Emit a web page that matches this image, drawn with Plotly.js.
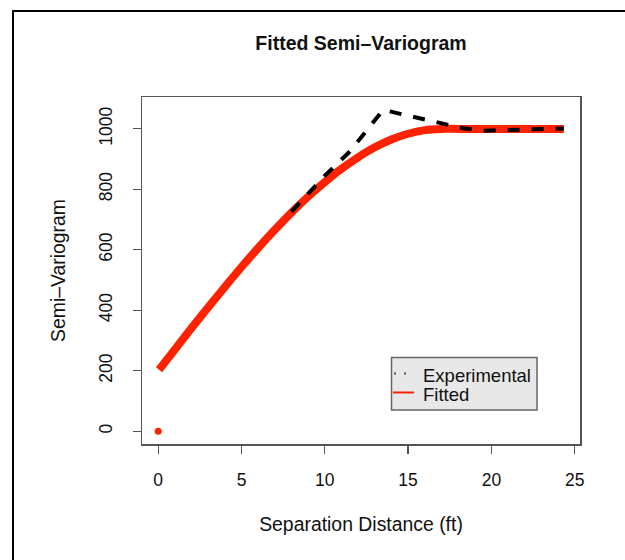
<!DOCTYPE html>
<html>
<head>
<meta charset="utf-8">
<script src="https://cdn.plot.ly/plotly-3.0.1.min.js"></script>
<style>
  html, body { margin: 0; padding: 0; background: #fff; }
  #wrap { position: relative; width: 625px; height: 560px; }
  #chart { width: 625px; height: 560px; }
  #frame { position: absolute; left: 12px; top: 10px; right: -5px; bottom: -5px;
           border-left: 2px solid #000; border-top: 2px solid #000; pointer-events: none; }
</style>
</head>
<body>
<div id="wrap">
  <div id="chart"></div>
  <div id="frame"></div>
</div>
<script>
// Experimental semi-variogram
const expX = [8, 10, 11.5, 13.5, 18.3, 19.5, 22, 24.35];
const expY = [726, 845, 925, 1063, 1002, 994, 998, 1001];

// Fitted semi-variogram
const fitX = [0.05, 1, 2, 3, 4, 5, 6, 7, 8, 9, 10, 11, 12, 13, 14, 15, 16, 17, 18, 19, 20, 21, 22, 23, 24.35];
const fitY = [203, 270, 341, 410, 477, 543, 606, 666, 723, 776, 824, 868, 906, 939, 965, 984, 996, 1000, 1000, 1000, 1000, 1000, 1000, 1000, 1000];

// Fitted value at zero separation
const nugX = [0];
const nugY = [0];

const xTicks = [0, 5, 10, 15, 20, 25];
const yTicks = [0, 200, 400, 600, 800, 1000];

const legendLabels = ["Experimental", "Fitted"];

const titleText = "Fitted Semi\u2013Variogram";
const xTitle = "Separation Distance (ft)";
const yTitle = "Semi\u2013Variogram";

const FONT = "Liberation Sans, Arial, Helvetica, sans-serif";
const RED = "#ff2200";

// plot-area geometry in pixels (for the legend box placement)
const PL = 142, PR = 580, PT = 97, PB = 444;
const px = v => (v - PL) / (PR - PL);
const py = v => (PB - v) / (PB - PT);

const traces = [
  { x: fitX, y: fitY, type: "scatter", mode: "lines", name: legendLabels[1],
    line: { color: RED, width: 8, shape: "spline" }, showlegend: false, hoverinfo: "skip" },
  { x: nugX, y: nugY, type: "scatter", mode: "markers", marker: { color: RED, size: 7 },
    showlegend: false, hoverinfo: "skip" },
  { x: expX, y: expY, type: "scatter", mode: "lines", name: legendLabels[0],
    line: { color: "#000", width: 4, dash: "12px,12px" }, showlegend: false, hoverinfo: "skip" }
];

const axisCommon = {
  showgrid: false, zeroline: false, showline: true, mirror: true,
  linecolor: "#555", linewidth: 1.5, ticks: "outside", ticklen: 8, tickwidth: 1.2, tickcolor: "#555",
  tickfont: { family: FONT, size: 17.5, color: "#111" }
};

const layout = {
  width: 625, height: 560,
  margin: { l: PL, r: 625 - PR, t: PT, b: 560 - PB },
  paper_bgcolor: "#fff", plot_bgcolor: "#fff",
  showlegend: false,
  title: { text: "<b>" + titleText + "</b>", font: { family: FONT, size: 19.5, color: "#111" },
           x: 0.5, xref: "paper", y: 1 - 43 / 560, yanchor: "middle" },
  xaxis: Object.assign({}, axisCommon, {
    range: [-0.974, 25.32], tickvals: xTicks, ticktext: xTicks.map(String), ticklabelstandoff: 11,
    title: { text: xTitle, font: { family: FONT, size: 19.4, color: "#111" }, standoff: 29 }
  }),
  yaxis: Object.assign({}, axisCommon, {
    range: [-42.5, 1105.5], tickvals: yTicks, ticktext: yTicks.map(String), tickangle: -90, ticklabelstandoff: 14,
    title: { text: yTitle, font: { family: FONT, size: 19.4, color: "#111" }, standoff: 24 }
  }),
  shapes: [
    { type: "rect", xref: "paper", yref: "paper", x0: px(391.5), x1: px(537), y0: py(410), y1: py(357.5),
      fillcolor: "#e8e8e8", line: { color: "#666", width: 1.5 }, layer: "above" },
    { type: "line", xref: "paper", yref: "paper", x0: px(394), x1: px(414), y0: py(373.5), y1: py(373.5),
      line: { color: "#555", width: 2, dash: "2px,8px" }, layer: "above" },
    { type: "line", xref: "paper", yref: "paper", x0: px(393), x1: px(414), y0: py(392.5), y1: py(392.5),
      line: { color: RED, width: 2 }, layer: "above" }
  ],
  annotations: [
    { text: legendLabels[0], xref: "paper", yref: "paper", x: px(421), y: py(375), xanchor: "left", yanchor: "middle",
      showarrow: false, font: { family: FONT, size: 18.5, color: "#111" } },
    { text: legendLabels[1], xref: "paper", yref: "paper", x: px(421), y: py(394), xanchor: "left", yanchor: "middle",
      showarrow: false, font: { family: FONT, size: 18.5, color: "#111" } }
  ]
};

Plotly.newPlot("chart", traces, layout, { displayModeBar: false, staticPlot: true });
</script>
</body>
</html>
